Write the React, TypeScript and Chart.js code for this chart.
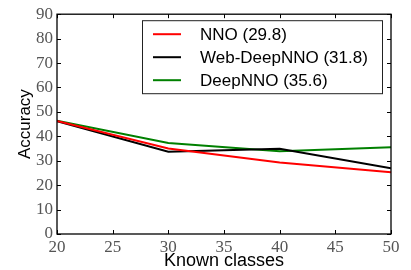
import React, { useEffect, useRef } from "react";
import { Chart, registerables } from "chart.js";

Chart.register(...registerables);

const knownClasses = [20, 30, 40, 50];
const nnoValues = [46.3, 35.0, 29.3, 25.3];
const webDeepNnoValues = [46.2, 33.7, 34.9, 26.9];
const deepNnoValues = [46.4, 37.3, 33.9, 35.5];
const seriesLabels = ["NNO (29.8)", "Web-DeepNNO (31.8)", "DeepNNO (35.6)"];
const seriesColors = ["#ff0000", "#000000", "#008000"];

const frameAndTicks = {
  id: "frameAndTicks",
  afterDatasetsDraw(chart: any) {
    const { ctx, chartArea } = chart;
    const { left, right, top, bottom } = chartArea;
    const xs = chart.scales.x;
    const ys = chart.scales.y;
    const tl = 4;
    ctx.save();
    ctx.strokeStyle = "#000";
    ctx.lineWidth = 1;
    ctx.beginPath();
    xs.ticks.forEach((t: any) => {
      const px = Math.round(xs.getPixelForValue(t.value)) + 0.5;
      ctx.moveTo(px, bottom);
      ctx.lineTo(px, bottom - tl);
      ctx.moveTo(px, top);
      ctx.lineTo(px, top + tl);
    });
    ys.ticks.forEach((t: any) => {
      const py = Math.round(ys.getPixelForValue(t.value)) + 0.5;
      ctx.moveTo(left, py);
      ctx.lineTo(left + tl, py);
      ctx.moveTo(right, py);
      ctx.lineTo(right - tl, py);
    });
    ctx.stroke();
    ctx.lineWidth = 1.3;
    ctx.strokeRect(left, top, right - left, bottom - top);

    // legend box
    const bx = left + 85;
    const by = top + 6;
    const bw = right - 9 - bx;
    const bh = 73;
    ctx.fillStyle = "#fff";
    ctx.fillRect(bx, by, bw, bh);
    ctx.lineWidth = 1;
    ctx.strokeStyle = "#222";
    ctx.strokeRect(bx + 0.5, by + 0.5, bw, bh);
    ctx.font = '17px "Liberation Sans", Arial, sans-serif';
    ctx.textBaseline = "middle";
    ctx.textAlign = "left";
    chart.data.datasets.forEach((ds: any, i: number) => {
      const cy = by + 14 + i * 23;
      ctx.strokeStyle = ds.borderColor;
      ctx.lineWidth = 2;
      ctx.beginPath();
      ctx.moveTo(bx + 11, cy);
      ctx.lineTo(bx + 39, cy);
      ctx.stroke();
      ctx.fillStyle = "#000";
      ctx.fillText(ds.label, bx + 58, cy + 1);
    });
    ctx.restore();
  },
};

export default function App() {
  const ref = useRef<HTMLCanvasElement>(null);
  useEffect(() => {
    const canvas = ref.current!;
    const mk = (label: string, values: number[], color: string) => ({
      label,
      data: knownClasses.map((x, i) => ({ x, y: values[i] })),
      borderColor: color,
      backgroundColor: color,
      borderWidth: 2,
      pointRadius: 0,
      tension: 0,
    });
    const tickFont = { family: '"Liberation Serif", "DejaVu Serif", serif', size: 17 };
    const chart = new Chart(canvas, {
      type: "line",
      data: {
        datasets: [
          mk(seriesLabels[0], nnoValues, seriesColors[0]),
          mk(seriesLabels[1], webDeepNnoValues, seriesColors[1]),
          mk(seriesLabels[2], deepNnoValues, seriesColors[2]),
        ],
      },
      options: {
        animation: false,
        responsive: false,
        maintainAspectRatio: false,
        devicePixelRatio: 1,
        layout: { padding: { top: 10, right: 20, left: 0, bottom: 0 } },
        plugins: { legend: { display: false }, tooltip: { enabled: false } },
        scales: {
          x: {
            type: "linear",
            min: 20,
            max: 50,
            grid: { display: true, drawOnChartArea: false, drawTicks: false },
            border: { display: false },
            ticks: { stepSize: 5, color: "#555", font: tickFont, padding: 3, maxRotation: 0 },
            title: {
              display: true,
              text: "Known classes",
              color: "#000",
              font: { family: '"Liberation Sans", Arial, sans-serif', size: 18, lineHeight: 1.0 },
              padding: { top: 0, bottom: 0 },
            },
            afterFit: (s: any) => {
              s.height = 36;
            },
          },
          y: {
            min: 0,
            max: 90,
            grid: { display: true, drawOnChartArea: false, drawTicks: false },
            border: { display: false },
            ticks: { stepSize: 10, color: "#555", font: tickFont, padding: 4 },
            title: {
              display: true,
              text: "Accuracy",
              color: "#000",
              font: { family: '"Liberation Sans", Arial, sans-serif', size: 17, lineHeight: 1.2 },
              padding: { top: 15, bottom: 0 },
            },
            afterFit: (s: any) => {
              s.width = 57;
            },
          },
        },
      },
      plugins: [frameAndTicks],
    });
    return () => chart.destroy();
  }, []);
  return (
    <div style={{ position: "fixed", left: 0, top: 0, width: 411, height: 270, background: "#fff" }}>
      <canvas ref={ref} width={411} height={270} style={{ display: "block", width: 411, height: 270 }} />
    </div>
  );
}
